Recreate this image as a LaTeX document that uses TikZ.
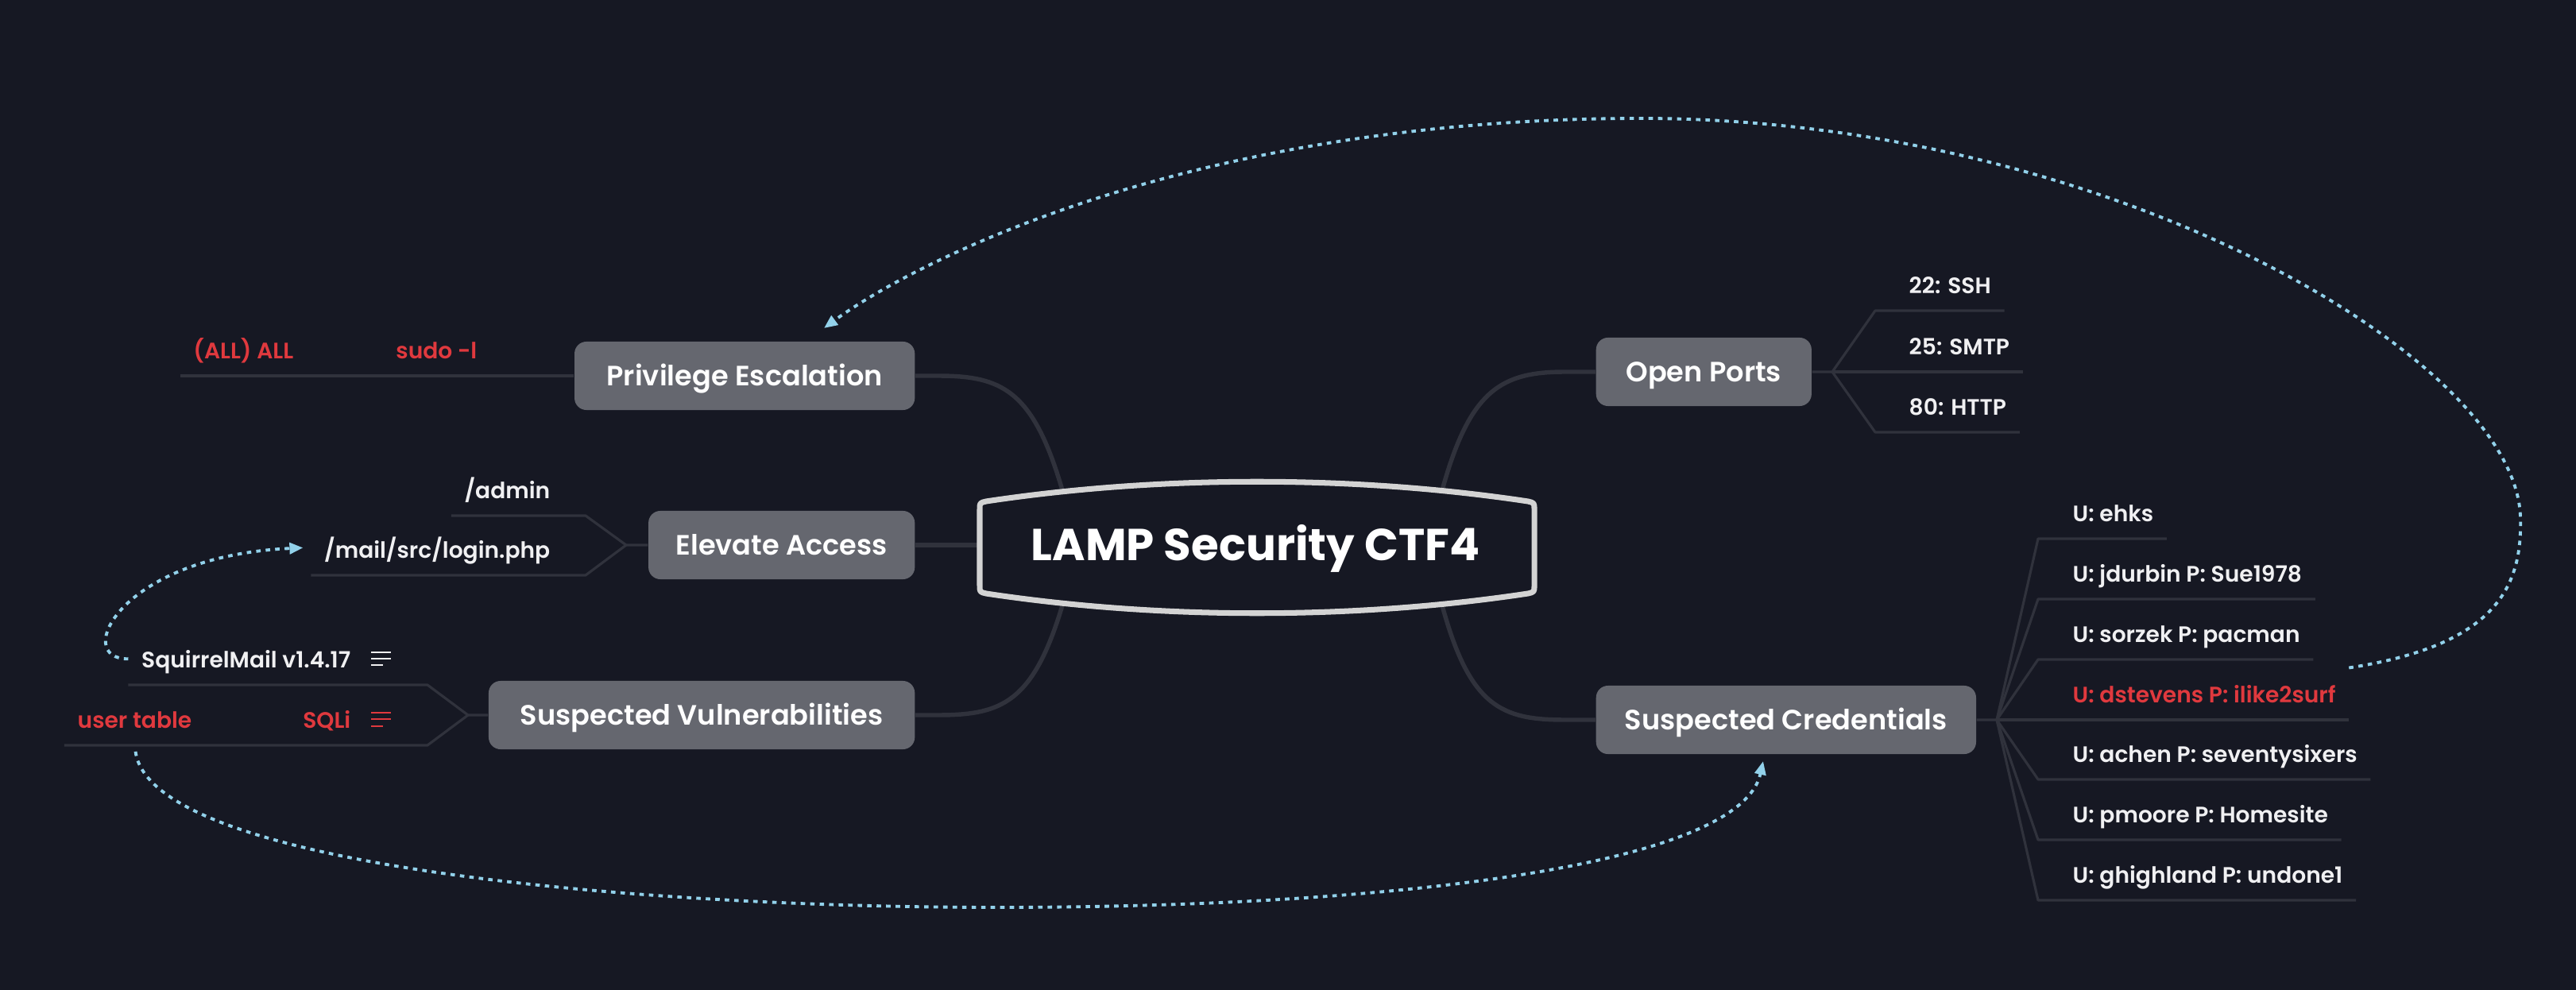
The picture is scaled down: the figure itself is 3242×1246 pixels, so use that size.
\documentclass[tikz,border=0pt]{standalone}
\usepackage{fontspec}
\setmainfont{Poppins}
\newfontfamily\titlefont{Poppins Bold}
\newfontfamily\topicfont{Poppins SemiBold}
\usetikzlibrary{arrows.meta}
\definecolor{bgcol}{HTML}{161823}
\definecolor{boxcol}{HTML}{65676F}
\definecolor{linecol}{HTML}{30323C}
\definecolor{redcol}{HTML}{E0393E}
\definecolor{linkcol}{HTML}{92D1EA}
\definecolor{rimcol}{HTML}{D3D3D3}
\definecolor{leafcol}{HTML}{F0F0F2}

\begin{document}
\begin{tikzpicture}[x=0.01cm,y=-0.01cm,
		topic/.style={fill=boxcol,rounded corners=0.15cm,minimum height=0.86cm,
			text=white,font=\topicfont\fontsize{10}{12}\selectfont,text height=7pt,text depth=0pt},
		leaf/.style={inner xsep=0.16cm,inner ysep=0.21cm,text depth=0pt,text=leafcol,
			font=\topicfont\fontsize{8}{9.5}\selectfont},
		hot/.style={leaf,text=redcol},
		branch/.style={draw=linecol,line width=1.55pt},
		twig/.style={draw=linecol,line width=0.9pt,line join=round},
		link/.style={draw=linkcol,line width=1.1pt,dash pattern=on 1.6pt off 1.8pt,
			-{Triangle[length=0.17cm,width=0.14cm]}},
		note/.style={line width=0.7pt}]
			\useasboundingbox (0,0) rectangle (3242,1246);
			\fill[bgcol] (0,0) rectangle (3242,1246);

			% Main topics, left side flush right and right side flush left.
			\node[topic,minimum width=4.28cm,anchor=east] (priv) at (1152,473) {Privilege Escalation};
			\node[topic,minimum width=3.35cm,anchor=east] (elev) at (1152,686) {Elevate Access};
			\node[topic,minimum width=5.36cm,anchor=east] (vuln) at (1152,900) {Suspected Vulnerabilities};
			\node[topic,minimum width=2.71cm,anchor=west] (ports) at (2008,468) {Open Ports};
			\node[topic,minimum width=4.78cm,anchor=west] (creds) at (2008,906) {Suspected Credentials};

			% Points where the branches leave the central outline.
			\coordinate (rootnw) at (1337,617);
			\coordinate (rootne) at (1815,617);
			\coordinate (rootsw) at (1337,762);
			\coordinate (rootse) at (1815,762);
			\coordinate (rootw) at (1240,686);

			\draw[branch] (priv.east) -- (1180,473) .. controls (1260,473) and (1300,490) .. (rootnw);
			\draw[branch] (elev.east) -- (rootw);
			\draw[branch] (vuln.east) -- (1180,900) .. controls (1260,900) and (1300,885) .. (rootsw);
			\draw[branch] (ports.west) -- (1970,468) .. controls (1890,468) and (1850,490) .. (rootne);
			\draw[branch] (creds.west) -- (1970,906) .. controls (1890,906) and (1850,890) .. (rootse);

			% Central topic: a box whose top and bottom edges bulge outwards.
			\draw[rimcol,line width=2pt,fill=bgcol,line join=round]
				(1233,641) .. controls (1233,633) .. (1241,631)
				.. controls (1460,598) and (1704,598) .. (1923,631)
				.. controls (1931,633) .. (1931,641) -- (1931,737)
				.. controls (1931,745) .. (1923,747)
				.. controls (1704,780) and (1460,780) .. (1241,747)
				.. controls (1233,745) .. (1233,737) -- cycle;
			\node[anchor=base,text=white,font=\titlefont\fontsize{16}{19}\selectfont]
				(root) at (1580,705) {LAMP Security CTF4};

			% Privilege escalation chain.
			\node[hot,anchor=south east] (sudo) at (617,473) {sudo -l};
			\node[hot,anchor=south east] (allall) at (386,473) {(ALL) ALL};
			\draw[twig] (priv.west) -- (sudo.south east) -- (allall.south west);

			% Elevate access leaves.
			\coordinate (elevfork) at (788,686);
			\node[leaf,anchor=south east] (admin) at (709,649) {/admin};
			\node[leaf,anchor=south east] (login) at (709,724) {/mail/src/login.php};
			\draw[twig] (elev.west) -- (elevfork) -- ++(-51,-37) -- (admin.south west);
			\draw[twig] (elevfork) -- ++(-51,38) -- (login.south west);

			% Vulnerability leaves, each with a note marker.
			\coordinate (vulnfork) at (589,900);
			\node[leaf,anchor=south east] (squirrel) at (458,862) {SquirrelMail v1.4.17};
			\node[hot,anchor=south east] (sqli) at (458,938) {SQLi};
			\node[hot,anchor=south east] (usertable) at (258,938) {user table};
			\draw[twig] (vuln.west) -- (vulnfork) -- ++(-51,-38) -- (squirrel.south west);
			\draw[twig] (vulnfork) -- ++(-51,38) -- (sqli.south east) -- (usertable.south west);
			\draw[note,leafcol] (467,821) -- (492,821) (467,829) -- (492,829) (467,837) -- (482,837);
			\draw[note,redcol] (467,897) -- (492,897) (467,905) -- (492,905) (467,914) -- (482,914);

			% Open ports.
			\coordinate (portsfork) at (2306,468);
			\node[leaf,anchor=south west] (ssh) at (2386,391) {22: SSH};
			\node[leaf,anchor=south west] (smtp) at (2386,468) {25: SMTP};
			\node[leaf,anchor=south west] (http) at (2386,544) {80: HTTP};
			\draw[twig] (ports.east) -- (portsfork) -- ++(54,-77) -- (ssh.south east);
			\draw[twig] (portsfork) -- (smtp.south east);
			\draw[twig] (portsfork) -- ++(54,76) -- (http.south east);

			% Credentials found so far.
			\coordinate (credsfork) at (2513,906);
			\node[leaf,anchor=south west] (ehks) at (2592,678) {U: ehks};
			\node[leaf,anchor=south west] (jdurbin) at (2592,754) {U: jdurbin P: Sue1978};
			\node[leaf,anchor=south west] (sorzek) at (2592,830) {U: sorzek P: pacman};
			\node[hot,anchor=south west] (dstevens) at (2592,906) {U: dstevens P: ilike2surf};
			\node[leaf,anchor=south west] (achen) at (2592,981) {U: achen P: seventysixers};
			\node[leaf,anchor=south west] (pmoore) at (2592,1057) {U: pmoore P: Homesite};
			\node[leaf,anchor=south west] (ghighland) at (2592,1133) {U: ghighland P: undone1};
			\draw[twig] (creds.east) -- (credsfork) -- ++(52,-228) -- (ehks.south east);
			\draw[twig] (credsfork) -- ++(52,-152) -- (jdurbin.south east);
			\draw[twig] (credsfork) -- ++(52,-76) -- (sorzek.south east);
			\draw[twig] (credsfork) -- (dstevens.south east);
			\draw[twig] (credsfork) -- ++(52,75) -- (achen.south east);
			\draw[twig] (credsfork) -- ++(52,151) -- (pmoore.south east);
			\draw[twig] (credsfork) -- ++(52,227) -- (ghighland.south east);

			% Dotted relationship arrows.
			\coordinate (privin) at (1037,413);
			\coordinate (credsin) at (2219,958);
			\draw[link] (dstevens.north east)
				.. controls (3140,812) and (3175,740) .. (3172,650)
				.. controls (3165,450) and (2650,149) .. (2065,149)
				.. controls (1500,149) and (1150,330) .. (privin);
			\draw[link,shorten <=0.08cm] (usertable.south)
				.. controls (190,1090) and (800,1142) .. (1255,1142)
				.. controls (1750,1142) and (2190,1090) .. (credsin);
			\draw[link,shorten >=0.1cm] (squirrel.west)
				.. controls (90,830) and (150,700) .. (login.west);
		\end{tikzpicture}
\end{document}
